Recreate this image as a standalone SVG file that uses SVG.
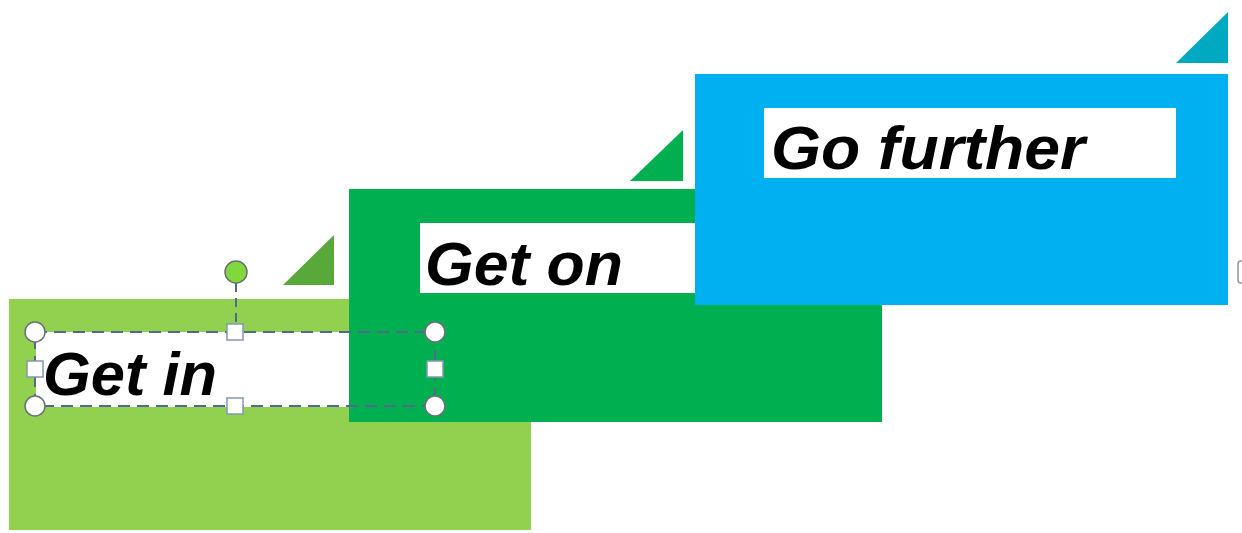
<svg xmlns="http://www.w3.org/2000/svg" width="1242" height="533" viewBox="0 0 1242 533">
<style>
.lbl{font-family:"Liberation Sans",Arial,sans-serif;font-weight:bold;font-style:italic;font-size:62px;fill:#000}
.box{fill:#fff}
.hc{fill:#fff;stroke:#6b6f78;stroke-width:1.5}
.hs{fill:#fff;stroke:#8497b0;stroke-width:1.5}
.sel{fill:none;stroke:#50698f;stroke-width:2;stroke-dasharray:12 7}
</style>
<rect width="1242" height="533" fill="#fff"/>
<g id="step1">
<polygon points="283,285 334,285 334,235" fill="#58a83a"/>
<rect x="9" y="299" width="522" height="231" fill="#92d050"/>
<rect class="box" x="36" y="332" width="400" height="75"/>
<text class="lbl" x="43" y="395" textLength="174" lengthAdjust="spacingAndGlyphs">Get in</text>
</g>
<g id="step2">
<polygon points="630,181 683,181 683,130" fill="#00b050"/>
<rect x="349" y="189" width="533" height="233" fill="#00b050"/>
<rect class="box" x="420" y="223" width="412" height="70"/>
<text class="lbl" x="425" y="285" textLength="198" lengthAdjust="spacingAndGlyphs">Get on</text>
</g>
<g id="step3">
<polygon points="1176,63 1228,63 1228,12" fill="#00a9c2"/>
<rect x="695" y="74" width="533" height="231" fill="#00b0f0"/>
<rect class="box" x="764" y="108" width="412" height="70"/>
<text class="lbl" x="771" y="169" textLength="314" lengthAdjust="spacingAndGlyphs">Go further</text>
</g>
<g id="connectors">
<line x1="236" y1="283" x2="236" y2="332" stroke="#50698f" stroke-width="2" stroke-dasharray="9 6"/>
</g>
<g id="selection">
<rect class="sel" x="35" y="332" width="400" height="74"/>
<circle cx="236" cy="272" r="11" fill="#80d83c" stroke="#6b6f78" stroke-width="1.5"/>
<circle class="hc" cx="35" cy="332" r="10"/>
<circle class="hc" cx="435" cy="332" r="10"/>
<circle class="hc" cx="35" cy="406" r="10"/>
<circle class="hc" cx="435" cy="406" r="10"/>
<rect class="hs" x="227" y="324" width="16" height="16"/>
<rect class="hs" x="227" y="398" width="16" height="16"/>
<rect class="hs" x="27" y="361" width="16" height="16"/>
<rect class="hs" x="427" y="361" width="16" height="16"/>
<rect class="hs" x="1238" y="261" width="12" height="22" rx="3"/>
</g>
</svg>
